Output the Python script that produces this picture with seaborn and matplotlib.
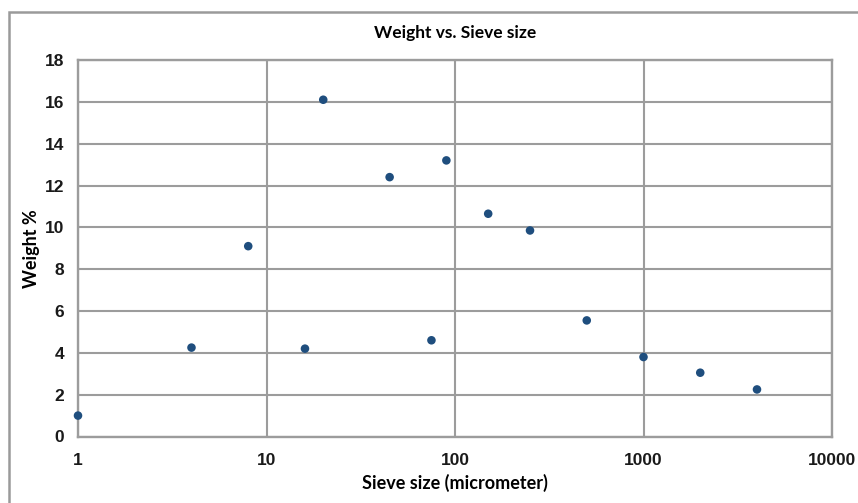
import matplotlib
matplotlib.use("Agg")
import matplotlib.pyplot as plt
import seaborn as sns
import pandas as pd
from matplotlib.patches import Rectangle
from matplotlib.ticker import FixedLocator, FixedFormatter, NullLocator

# Data
sieve_size = [1, 4, 8, 16, 20, 45, 75, 90, 150, 250, 500, 1000, 2000, 4000]
weight_pct = [1.0, 4.25, 9.1, 4.2, 16.1, 12.4, 4.6, 13.2, 10.65, 9.85, 5.55, 3.8, 3.05, 2.25]
x_ticks = [1, 10, 100, 1000, 10000]
x_tick_labels = ["1", "10", "100", "1000", "10000"]
y_ticks = [0, 2, 4, 6, 8, 10, 12, 14, 16, 18]

df = pd.DataFrame({"Sieve size": sieve_size, "Weight": weight_pct})

sns.set_theme(style="white")
plt.rcParams["font.family"] = ["Lato", "DejaVu Sans"]

fig = plt.figure(figsize=(8.58, 5.03), dpi=100)
ax = fig.add_axes([78/858, 1-436.5/503, (832-78)/858, (436.5-60)/503])

sns.scatterplot(data=df, x="Sieve size", y="Weight", ax=ax, color="#1f4e7e",
                s=38, edgecolor="none", zorder=3, clip_on=False)

ax.set_xscale("log")
ax.set_xlim(1, 10000)
ax.set_ylim(0, 18)
ax.xaxis.set_major_locator(FixedLocator(x_ticks))
ax.xaxis.set_major_formatter(FixedFormatter(x_tick_labels))
ax.xaxis.set_minor_locator(NullLocator())
ax.set_yticks(y_ticks)
ax.set_yticklabels([str(v) for v in y_ticks])

grid_col = "#9c9c9c"
ax.grid(True, which="major", color=grid_col, linewidth=1.5, zorder=0)
ax.set_axisbelow(True)
for sp in ax.spines.values():
    sp.set_color(grid_col)
    sp.set_linewidth(1.7)

ax.tick_params(axis="both", length=0)
ax.tick_params(axis="x", pad=12)
ax.tick_params(axis="y", pad=10)
for lab in ax.get_xticklabels() + ax.get_yticklabels():
    lab.set_fontfamily(["Liberation Sans", "DejaVu Sans"])
    lab.set_fontweight("bold")
    lab.set_fontsize(12.5)
    lab.set_color("#1a1a1a")

ax.set_xlabel("Sieve size (micrometer)", fontsize=13, fontweight="bold",
              color="black", labelpad=4)
ax.set_ylabel("Weight %", fontsize=13, fontweight="bold", color="black",
              labelpad=3)
fig.text(0.5 * (78 + 832) / 858, 1 - 33/503, "Weight vs. Sieve size",
         ha="center", va="center", fontsize=12.5, fontweight="bold", color="black")

# Outer frame (extends beyond the right and bottom edges)
fig.patches.append(Rectangle((9/858, -0.05), 1.2, 1 - 12/503 + 0.05,
                             transform=fig.transFigure, fill=False,
                             edgecolor="#9a9a9a", linewidth=1.8))

fig.savefig("out.png", dpi=100)
